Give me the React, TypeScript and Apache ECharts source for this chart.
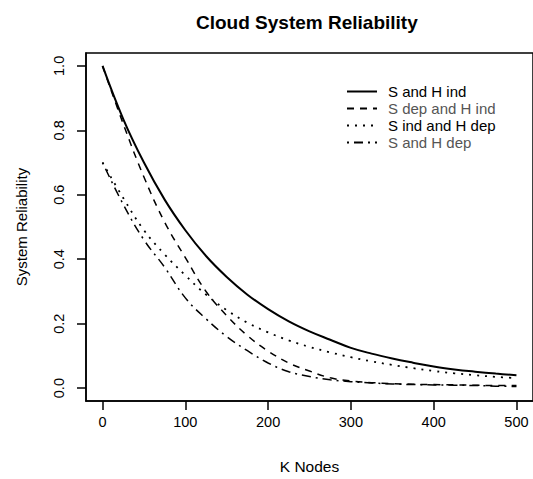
import React, { useEffect, useRef } from "react";
import * as echarts from "echarts";

// K nodes sampled every 25
const kNodes = [0, 25, 50, 75, 100, 125, 150, 175, 200, 225, 250, 275, 300, 325, 350, 375, 400, 425, 450, 475, 500];

const sAndHInd = [1.0, 0.835, 0.70, 0.585, 0.49, 0.41, 0.345, 0.29, 0.245, 0.207, 0.176, 0.150, 0.125, 0.107, 0.092, 0.079, 0.067, 0.058, 0.051, 0.045, 0.040];
const sDepAndHInd = [1.0, 0.82, 0.655, 0.515, 0.405, 0.30, 0.225, 0.163, 0.115, 0.078, 0.053, 0.032, 0.022, 0.017, 0.014, 0.012, 0.011, 0.010, 0.009, 0.008, 0.008];
const sIndAndHDep = [0.70, 0.59, 0.49, 0.415, 0.35, 0.29, 0.242, 0.203, 0.173, 0.148, 0.128, 0.111, 0.096, 0.083, 0.072, 0.062, 0.053, 0.046, 0.040, 0.035, 0.031];
const sAndHDep = [0.70, 0.57, 0.46, 0.375, 0.28, 0.215, 0.16, 0.116, 0.078, 0.051, 0.036, 0.026, 0.020, 0.016, 0.013, 0.011, 0.010, 0.009, 0.008, 0.006, 0.005];

const seriesNames = ["S and H ind", "S dep and H ind", "S ind and H dep", "S and H dep"];
const xTicks = [0, 100, 200, 300, 400, 500];
const yTicks = [0, 0.2, 0.4, 0.6, 0.8, 1.0];

const FONT = "'Liberation Sans', Arial, Helvetica, sans-serif";

const pairs = (ys: number[]) => kNodes.map((k, i) => [k, ys[i]]);

export default function App() {
  const ref = useRef<HTMLDivElement>(null);

  useEffect(() => {
    document.body.style.margin = "0";
    const chart = echarts.init(ref.current!, null, { renderer: "svg" });

    const lineSeries = (name: string, ys: number[], width: number, type: any) => ({
      name,
      type: "line",
      data: pairs(ys),
      symbol: "none",
      smooth: 0.4,
      lineStyle: { color: "#000", width, type },
      itemStyle: { color: "#000" },
    });

    const axisLine = { show: true, onZero: false, lineStyle: { color: "#000", width: 1.5 } };

    chart.setOption({
      animation: false,
      backgroundColor: "#fff",
      textStyle: { fontFamily: FONT },
      title: {
        text: "Cloud System Reliability",
        left: 191,
        top: 8,
        textStyle: { fontFamily: FONT, fontWeight: "bold", fontSize: 19, color: "#000" },
      },
      legend: {
        orient: "vertical",
        left: 341,
        top: 79,
        itemWidth: 30,
        itemHeight: 14,
        itemGap: 2,
        itemStyle: { opacity: 0 },
        textStyle: { fontFamily: FONT, fontSize: 15, color: "#000", padding: [0, 0, 0, 6] },
        data: [
          { name: seriesNames[0], textStyle: { color: "#000" } },
          { name: seriesNames[1], textStyle: { color: "#555" } },
          { name: seriesNames[2], textStyle: { color: "#000" } },
          { name: seriesNames[3], textStyle: { color: "#555" } },
        ],
      },
      grid: {
        left: 86,
        top: 53,
        width: 449,
        height: 349,
        show: true,
        borderColor: "#000",
        borderWidth: 1.5,
        backgroundColor: "transparent",
      },
      xAxis: {
        type: "value",
        min: -20,
        max: 520,
        name: "K Nodes",
        nameLocation: "middle",
        nameGap: 57,
        nameTextStyle: { fontFamily: FONT, fontSize: 15.5, color: "#000" },
        axisLine,
        splitLine: { show: false },
        axisTick: { show: true, inside: false, length: 9, lineStyle: { color: "#000", width: 1.5 }, customValues: xTicks },
        axisLabel: { customValues: xTicks, margin: 13, fontFamily: FONT, fontSize: 14.5, color: "#000" },
      },
      yAxis: {
        type: "value",
        min: -0.04,
        max: 1.04,
        name: "System Reliability",
        nameLocation: "middle",
        nameGap: 57,
        nameTextStyle: { fontFamily: FONT, fontSize: 15, color: "#000" },
        axisLine,
        splitLine: { show: false },
        axisTick: { show: true, inside: false, length: 9, lineStyle: { color: "#000", width: 1.5 }, customValues: yTicks },
        axisLabel: {
          customValues: yTicks,
          rotate: 90,
          margin: 20,
          fontFamily: FONT,
          fontSize: 14.5,
          color: "#000",
          formatter: (v: number) => v.toFixed(1),
        },
      },
      series: [
        lineSeries(seriesNames[0], sAndHInd, 2, "solid"),
        lineSeries(seriesNames[1], sDepAndHInd, 1.5, [7, 6]),
        lineSeries(seriesNames[2], sIndAndHDep, 1.8, [2, 6]),
        lineSeries(seriesNames[3], sAndHDep, 1.5, [2, 5, 9, 5]),
      ],
    });

    return () => chart.dispose();
  }, []);

  return <div ref={ref} style={{ width: 533, height: 479 }} />;
}
